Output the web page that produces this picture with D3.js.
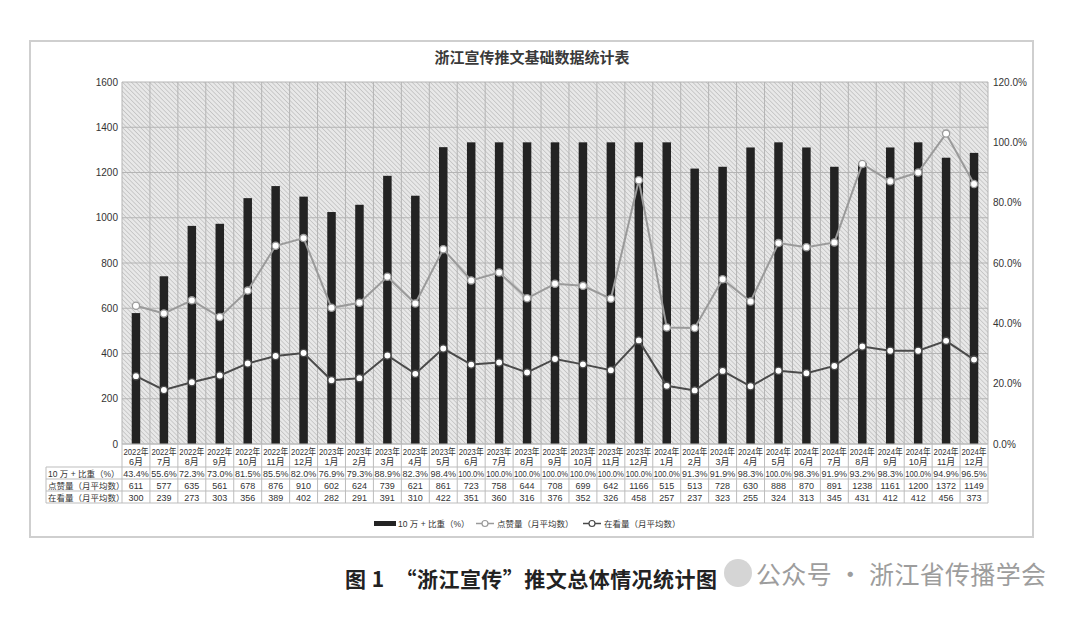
<html>
<head>
<meta charset="utf-8">
<script src="https://d3js.org/d3.v7.min.js"></script>
<style>
  body { margin:0; background:#fff; }
  text { font-family: "Liberation Sans", "Noto Sans CJK SC", sans-serif; }
</style>
</head>
<body>
<svg id="chart" width="1080" height="617"></svg>
<script>
    // data
    var years = ["2022年","2022年","2022年","2022年","2022年","2022年","2022年",
        "2023年","2023年","2023年","2023年","2023年","2023年","2023年","2023年","2023年","2023年","2023年","2023年",
        "2024年","2024年","2024年","2024年","2024年","2024年","2024年","2024年","2024年","2024年","2024年","2024年"];
    var months = ["6月","7月","8月","9月","10月","11月","12月",
        "1月","2月","3月","4月","5月","6月","7月","8月","9月","10月","11月","12月",
        "1月","2月","3月","4月","5月","6月","7月","8月","9月","10月","11月","12月"];
    var ratio = [43.4,55.6,72.3,73.0,81.5,85.5,82.0,
        76.9,79.3,88.9,82.3,98.4,100.0,100.0,100.0,100.0,100.0,100.0,100.0,
        100.0,91.3,91.9,98.3,100.0,98.3,91.9,93.2,98.3,100.0,94.9,96.5];
    var likes = [611,577,635,561,678,876,910,
        602,624,739,621,861,723,758,644,708,699,642,1166,
        515,513,728,630,888,870,891,1238,1161,1200,1372,1149];
    var views = [300,239,273,303,356,389,402,
        282,291,391,310,422,351,360,316,376,352,326,458,
        257,237,323,255,324,313,345,431,412,412,456,373];
    var leftTicks = [0,200,400,600,800,1000,1200,1400,1600];
    var rightTicks = [0,20,40,60,80,100,120];
    var rowNames = ["10 万 + 比重（%）","点赞量（月平均数）","在看量（月平均数）"];

    //************************************************************
    // Configuration
    //************************************************************
    var plot = { left: 122, right: 988, top: 82, bottom: 444 };
    var svg = d3.select("#chart");

    var x = d3.scaleBand().domain(d3.range(months.length)).range([plot.left, plot.right]);
    var yL = d3.scaleLinear().domain([0, 1600]).range([plot.bottom, plot.top]);
    var yR = d3.scaleLinear().domain([0, 120]).range([plot.bottom, plot.top]);

    // outer frame
    svg.append("rect").attr("x", 30).attr("y", 41).attr("width", 1003).attr("height", 496)
        .attr("fill", "#fff").attr("stroke", "#cfcfcf").attr("stroke-width", 2);

    svg.append("text").attr("x", 532).attr("y", 63).attr("text-anchor", "middle")
        .attr("font-size", 15).attr("font-weight", "bold").attr("fill", "#3a3a3a")
        .style("font-family", "'Noto Sans CJK SC'")
        .text("浙江宣传推文基础数据统计表");

    //hatched background for the plot area - lines run top-left to bottom-right
    var pat = svg.append("defs").append("pattern")
        .attr("id", "hatch").attr("patternUnits", "userSpaceOnUse")
        .attr("width", 3.2).attr("height", 3.2)
        .attr("patternTransform", "rotate(45)");
    pat.append("rect").attr("width", 3.2).attr("height", 3.2).attr("fill", "#e8e8e8");
    pat.append("line").attr("x1", 0).attr("y1", 0).attr("x2", 3.2).attr("y2", 0)
        .attr("stroke", "#b2b2b2").attr("stroke-width", 1.1);

    svg.append("rect").attr("x", plot.left).attr("y", plot.top)
        .attr("width", plot.right - plot.left).attr("height", plot.bottom - plot.top)
        .attr("fill", "url(#hatch)");

    // grid
    var grid = svg.append("g").attr("stroke", "#b4b4b4").attr("stroke-width", 1);
    grid.selectAll("line.h").data(leftTicks).enter().append("line")
        .attr("x1", plot.left).attr("x2", plot.right)
        .attr("y1", function(d){ return yL(d); }).attr("y2", function(d){ return yL(d); });
    grid.selectAll("line.v").data(d3.range(months.length + 1)).enter().append("line")
        .attr("x1", function(i){ return plot.left + i * x.bandwidth(); })
        .attr("x2", function(i){ return plot.left + i * x.bandwidth(); })
        .attr("y1", plot.top).attr("y2", plot.bottom);

    // axes labels
    var leftAxis = svg.append("g").attr("transform", "translate(" + (plot.left - 4) + ",0)")
        .call(d3.axisLeft(yL).tickValues(leftTicks).tickSize(0).tickPadding(0).tickFormat(d3.format("d")));
    leftAxis.select(".domain").remove();
    leftAxis.selectAll("text").attr("font-size", 10).attr("fill", "#333")
        .style("font-family", "'Liberation Sans'");

    var rightAxis = svg.append("g").attr("transform", "translate(" + (plot.right + 5) + ",0)")
        .call(d3.axisRight(yR).tickValues(rightTicks).tickSize(0).tickPadding(0)
            .tickFormat(function(d){ return d.toFixed(1) + "%"; }));
    rightAxis.select(".domain").remove();
    rightAxis.selectAll("text").attr("font-size", 10).attr("fill", "#333")
        .style("font-family", "'Liberation Sans'");

    // bars
    var bw = 8.5;
    svg.append("g").selectAll("rect").data(ratio).enter().append("rect")
        .attr("x", function(d, i){ return x(i) + x.bandwidth() / 2 - bw / 2; })
        .attr("y", function(d){ return yR(d); })
        .attr("width", bw)
        .attr("height", function(d){ return plot.bottom - yR(d); })
        .attr("fill", "#232323");

    // lines
    function drawLine(values, color) {
        var line = d3.line()
            .x(function(d, i){ return x(i) + x.bandwidth() / 2; })
            .y(function(d){ return yL(d); });
        svg.append("path").datum(values).attr("d", line)
            .attr("fill", "none").attr("stroke", color).attr("stroke-width", 2);
        svg.append("g").selectAll("circle").data(values).enter().append("circle")
            .attr("cx", function(d, i){ return x(i) + x.bandwidth() / 2; })
            .attr("cy", function(d){ return yL(d); })
            .attr("r", 3.6).attr("fill", "#fff")
            .attr("stroke", color).attr("stroke-width", 1.3);
    }
    drawLine(likes, "#9a9a9a");
    drawLine(views, "#4a4a4a");

    //************************************************************
    // data table
    //************************************************************
    var tb = svg.append("g");
    var rowY = [444, 467, 479, 491, 503];
    var cellStroke = "#bdbdbd";
    // vertical cell borders
    tb.selectAll("line.v").data(d3.range(months.length + 1)).enter().append("line")
        .attr("x1", function(i){ return plot.left + i * x.bandwidth(); })
        .attr("x2", function(i){ return plot.left + i * x.bandwidth(); })
        .attr("y1", rowY[0]).attr("y2", rowY[4])
        .attr("stroke", cellStroke);
    tb.append("line").attr("x1", 46).attr("x2", 46).attr("y1", rowY[1]).attr("y2", rowY[4]).attr("stroke", cellStroke);
    tb.selectAll("line.h").data(rowY).enter().append("line")
        .attr("x1", function(d, i){ return i === 0 ? plot.left : 46; })
        .attr("x2", plot.right)
        .attr("y1", function(d){ return d; }).attr("y2", function(d){ return d; })
        .attr("stroke", cellStroke);

    // month header
    var mh = tb.selectAll("g.m").data(months).enter().append("g")
        .attr("transform", function(d, i){ return "translate(" + (x(i) + x.bandwidth() / 2) + ",0)"; });
    mh.append("text").attr("y", 455).attr("text-anchor", "middle").attr("font-size", 9).attr("fill", "#333")
        .attr("textLength", 25).attr("lengthAdjust", "spacingAndGlyphs")
        .text(function(d, i){ return years[i]; });
    mh.append("text").attr("y", 465).attr("text-anchor", "middle").attr("font-size", 9).attr("fill", "#333")
        .text(function(d){ return d; });

    var rows = [ratio.map(function(d){ return d.toFixed(1) + "%"; }), likes, views];
    rows.forEach(function(vals, r) {
        tb.append("text").attr("x", 48).attr("y", rowY[r + 1] + 9.5)
            .attr("font-size", 8.5).attr("fill", "#333").text(rowNames[r]);
        tb.selectAll(null).data(vals).enter().append("text")
            .attr("x", function(d, i){ return x(i) + x.bandwidth() / 2; })
            .attr("y", rowY[r + 1] + 9.5)
            .attr("text-anchor", "middle").attr("font-size", 9).attr("fill", "#333")
            .each(function(d){
                if (String(d).length > 5) d3.select(this).attr("textLength", 26).attr("lengthAdjust", "spacingAndGlyphs");
            })
            .text(function(d){ return d; });
    });

    //************************************************************
    // legend
    //************************************************************
    var lg = svg.append("g").attr("font-size", 8.5).attr("fill", "#333");
    lg.append("rect").attr("x", 374).attr("y", 521).attr("width", 22).attr("height", 5).attr("fill", "#232323");
    lg.append("text").attr("x", 398).attr("y", 527).text("10 万 + 比重（%）");
    [{x: 476, c: "#9a9a9a", t: "点赞量（月平均数）"}, {x: 583, c: "#4a4a4a", t: "在看量（月平均数）"}]
        .forEach(function(d) {
            lg.append("line").attr("x1", d.x).attr("x2", d.x + 18).attr("y1", 523.5).attr("y2", 523.5)
                .attr("stroke", d.c).attr("stroke-width", 1.5);
            lg.append("circle").attr("cx", d.x + 9).attr("cy", 523.5).attr("r", 3)
                .attr("fill", "#fff").attr("stroke", d.c).attr("stroke-width", 1.2);
            lg.append("text").attr("x", d.x + 21).attr("y", 527).text(d.t);
        });

    // caption and watermark
    svg.append("text").attr("x", 345).attr("y", 587).attr("font-size", 21).attr("font-weight", "bold")
        .attr("fill", "#222").style("font-family", "'Noto Sans CJK SC'")
        .attr("textLength", 372).attr("lengthAdjust", "spacing")
        .text("图 1　“浙江宣传”推文总体情况统计图");
    svg.append("circle").attr("cx", 738).attr("cy", 573).attr("r", 14).attr("fill", "#d5d5d5");
    svg.append("text").attr("x", 756).attr("y", 584).attr("font-size", 25)
        .attr("fill", "#9d9d9d").style("font-family", "'Noto Sans CJK SC'")
        .attr("textLength", 290).attr("lengthAdjust", "spacing")
        .text("公众号 · 浙江省传播学会");
</script>
</body>
</html>
